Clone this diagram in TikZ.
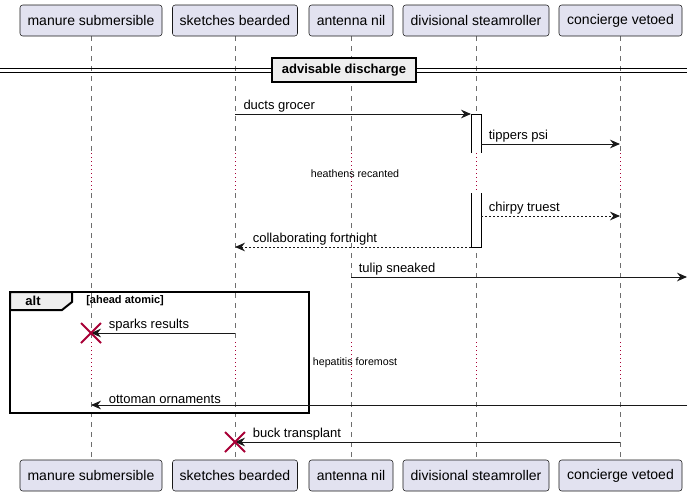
\documentclass[tikz,border=0pt]{standalone}
\usepackage{fontspec}
\setmainfont{Liberation Sans}
\usetikzlibrary{arrows.meta,positioning,calc}
\definecolor{partfill}{RGB}{226,226,240}
\definecolor{partline}{RGB}{24,24,24}
\definecolor{lifegray}{RGB}{110,110,110}
\definecolor{delayred}{RGB}{168,0,54}
\definecolor{framefill}{RGB}{238,238,238}
\tikzset{
  participant/.style={draw=partline, fill=partfill, rounded corners=2pt,
    minimum height=23.25pt, inner sep=0pt, font=\fontsize{10.5}{12}\selectfont},
  lifeline/.style={draw=lifegray, line width=0.75pt, dash pattern=on 3.75pt off 3.75pt},
  delayline/.style={draw=delayred, line width=0.75pt, dash pattern=on 0.75pt off 2.25pt},
  msg/.style={draw=partline, line width=0.75pt, -{Stealth[length=7.5pt,width=6.5pt,inset=2.5pt]}},
  reply/.style={msg, dash pattern=on 1.5pt off 1.5pt},
  msglabel/.style={font=\fontsize{9.75}{11}\selectfont, inner sep=1pt},
  delaytext/.style={font=\fontsize{8}{9}\selectfont},
  killmark/.style={draw=delayred, line width=1.5pt},
}
\begin{document}
\begin{tikzpicture}[x=0.75pt,y=-0.75pt]
  \useasboundingbox (0,0) rectangle (693,496);
  % Lifelines first, so the boxes sit on top
  \foreach \x in {91,235,351,476,620} {
    \draw[lifeline] (\x,36) -- (\x,153);
    \draw[delayline] (\x,153) -- (\x,193);
    \draw[lifeline] (\x,193) -- (\x,342);
    \draw[delayline] (\x,342) -- (\x,382);
    \draw[lifeline] (\x,382) -- (\x,459);
  }
  % Participants, top and bottom
  \node[participant,minimum width=106.5pt] (mst) at (91,20.5) {manure submersible};
  \node[participant,minimum width=93.75pt] (sbt) at (235,20.5) {sketches bearded};
  \node[participant,minimum width=63pt] (ant) at (351,20.5) {antenna nil};
  \node[participant,minimum width=109.5pt] (dst) at (476,20.5) {divisional steamroller};
  \node[participant,minimum width=92.25pt] (cvt) at (620.5,20.5) {concierge vetoed};
  \node[participant,minimum width=106.5pt] (msb) at (91,475.5) {manure submersible};
  \node[participant,minimum width=93.75pt] (sbb) at (235,475.5) {sketches bearded};
  \node[participant,minimum width=63pt] (anb) at (351,475.5) {antenna nil};
  \node[participant,minimum width=109.5pt] (dsb) at (476,475.5) {divisional steamroller};
  \node[participant,minimum width=92.25pt] (cvb) at (620.5,475.5) {concierge vetoed};
  % Divider
  \draw[line width=0.75pt] (0,68) -- (687,68);
  \draw[line width=0.75pt] (0,72) -- (687,72);
  \node[draw=black, fill=framefill, line width=1.5pt, minimum width=108pt, minimum height=18pt,
    inner sep=0pt, font=\bfseries\fontsize{9.75}{11}\selectfont] (divider) at (344,70) {advisable discharge};
  % Activation of divisional steamroller
  \fill[white] (471,114) rectangle (481,153);
  \draw[line width=0.75pt] (471,153) -- (471,114) -- (481,114) -- (481,153);
  \fill[white] (471,193) rectangle (481,247);
  \draw[line width=0.75pt] (471,193) -- (471,247) -- (481,247) -- (481,193);
  % Message end points
  \coordinate (sb1) at (235,114);   \coordinate (ds1) at (471,114);
  \coordinate (ds2) at (481,144);   \coordinate (cv2) at (620,144);
  \coordinate (ds3) at (481,216);   \coordinate (cv3) at (620,216);
  \coordinate (ds4) at (471,247);   \coordinate (sb4) at (235,247);
  \coordinate (an5) at (351,277);   \coordinate (out5) at (687,277);
  \coordinate (sb6) at (235,333);   \coordinate (ms6) at (91,333);
  \coordinate (in7) at (687,405);   \coordinate (ms7) at (91,405);
  \coordinate (cv8) at (620,442);   \coordinate (sb8) at (235,442);
  % Messages
  \draw[msg] (sb1) -- (ds1) node[msglabel,pos=0,anchor=south west,xshift=5pt] {ducts grocer};
  \draw[msg] (ds2) -- (cv2) node[msglabel,pos=0,anchor=south west,xshift=4.5pt] {tippers psi};
  \node[delaytext] (delay1) at (355,174) {heathens recanted};
  \draw[reply] (ds3) -- (cv3) node[msglabel,pos=0,anchor=south west,xshift=4.5pt] {chirpy truest};
  \draw[reply] (ds4) -- (sb4) node[msglabel,pos=1,anchor=south west,xshift=12pt] {collaborating fortnight};
  \draw[msg] (an5) -- (out5) node[msglabel,pos=0,anchor=south west,xshift=4.5pt] {tulip sneaked};
  % alt frame
  \draw[line width=1.5pt] (10,292) rectangle (309,413);
  \filldraw[fill=framefill, line width=1.5pt] (10,292) -- (72,292) -- (72,302) -- (62,310) -- (10,310) -- cycle;
  \node[font=\bfseries\fontsize{9.75}{11}\selectfont] (alttag) at (33,301) {alt};
  \node[font=\bfseries\fontsize{8.25}{10}\selectfont, anchor=west, inner sep=0pt] (altguard) at (86,301) {[ahead atomic]};
  \draw[msg] (sb6) -- (ms6) node[msglabel,pos=1,anchor=south west,xshift=12pt] {sparks results};
  \draw[killmark] ($(ms6)+(-10,-10)$) -- ($(ms6)+(10,10)$);
  \draw[killmark] ($(ms6)+(-10,10)$) -- ($(ms6)+(10,-10)$);
  \node[delaytext] (delay2) at (355,363) {hepatitis foremost};
  \draw[msg] (in7) -- (ms7) node[msglabel,pos=1,anchor=south west,xshift=12pt] {ottoman ornaments};
  \draw[msg] (cv8) -- (sb8) node[msglabel,pos=1,anchor=south west,xshift=12pt] {buck transplant};
  \draw[killmark] ($(sb8)+(-10,-10)$) -- ($(sb8)+(10,10)$);
  \draw[killmark] ($(sb8)+(-10,10)$) -- ($(sb8)+(10,-10)$);
\end{tikzpicture}
\end{document}
